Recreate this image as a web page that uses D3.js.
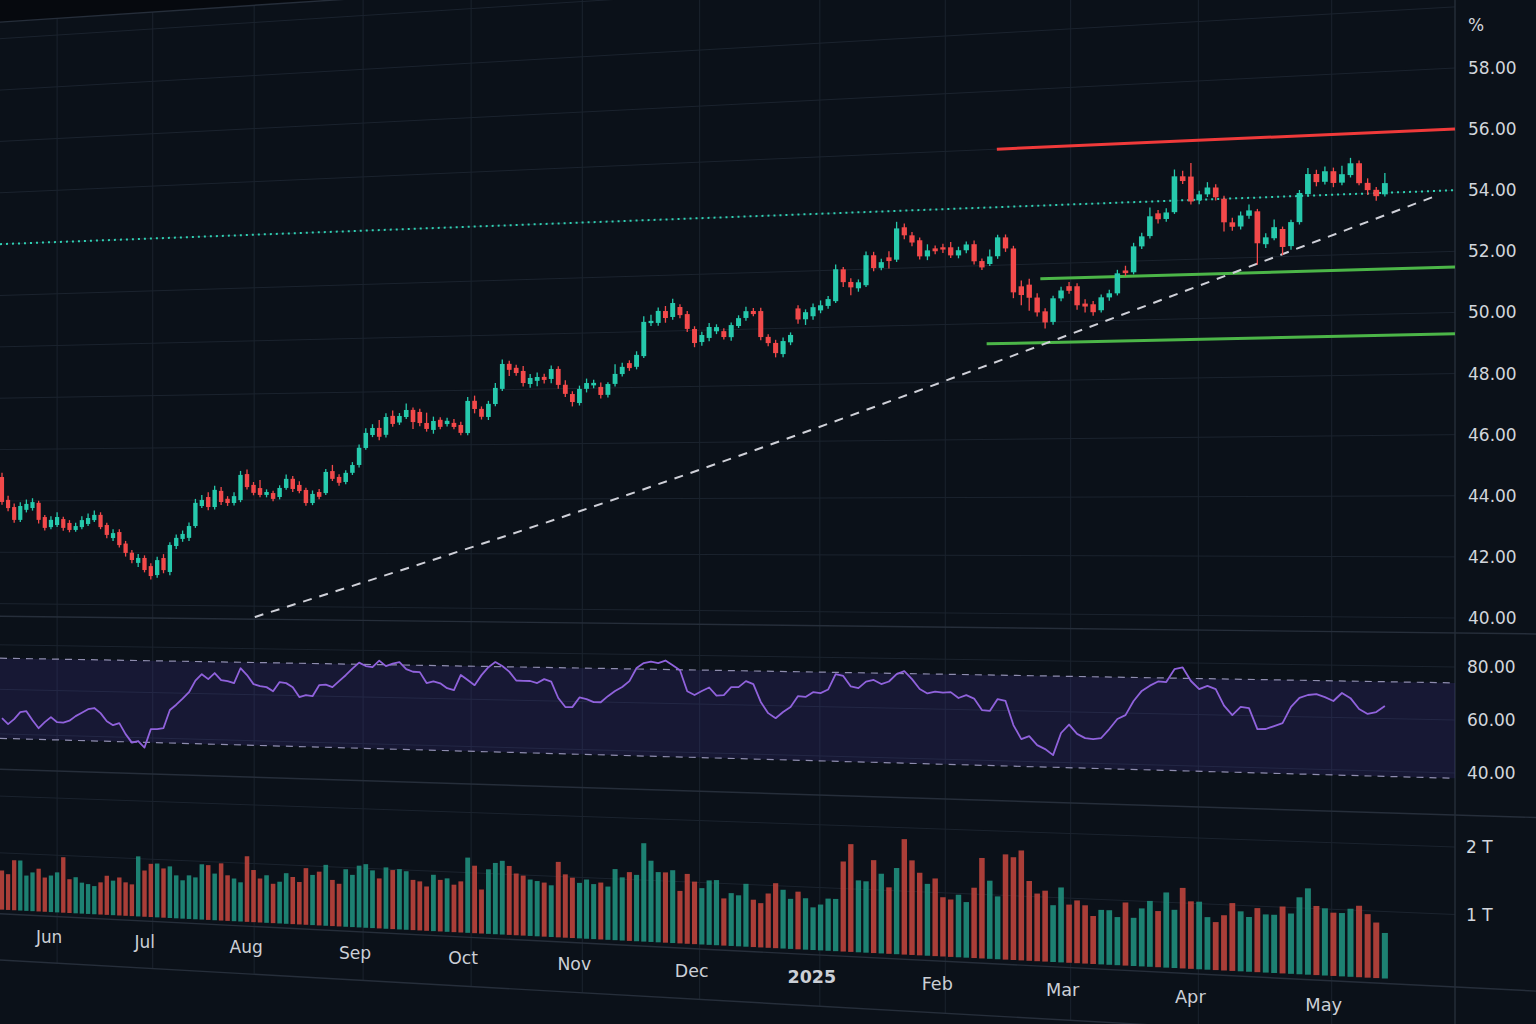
<!DOCTYPE html>
<html><head><meta charset="utf-8">
<script src="https://cdn.jsdelivr.net/npm/d3@7"></script>
<style>html,body{margin:0;padding:0;background:#0b1019;overflow:hidden}</style>
</head><body>
<svg id="c" width="1536" height="1024"></svg>
<script>
// ---------------- DATA ----------------
const open = [44.93,44.04,43.76,43.26,43.65,43.72,43.92,43.37,42.98,43.06,
43.29,43.14,42.87,42.98,43.10,43.25,43.45,43.06,42.56,42.79,
42.35,42.00,41.61,41.80,41.49,41.15,41.80,41.27,42.26,42.53,
42.57,43.02,43.78,44.12,43.74,44.35,44.05,43.89,44.00,44.98,
44.57,44.45,44.19,44.26,44.11,44.45,44.79,44.56,44.37,43.88,
44.29,44.25,45.07,44.85,44.66,45.00,45.29,45.92,46.40,46.66,
46.40,47.10,46.85,47.05,47.31,47.23,46.82,46.56,46.93,46.77,
46.81,46.73,46.43,47.61,47.31,47.01,47.48,48.03,48.94,48.79,
48.67,48.19,48.30,48.44,48.36,48.72,48.14,47.80,47.47,47.98,
48.10,48.04,47.75,48.14,48.49,48.88,48.74,49.12,50.30,50.30,
50.72,50.50,50.85,50.59,50.05,49.58,49.72,49.95,49.95,49.73,
50.12,50.40,50.64,50.63,49.71,49.49,49.09,49.50,50.69,50.30,
50.40,50.60,50.75,50.91,52.02,51.57,51.34,51.44,52.48,52.03,
52.39,52.30,53.42,53.13,52.95,52.38,52.65,52.68,52.67,52.38,
52.55,52.75,52.16,52.05,52.31,52.95,52.56,51.25,51.30,50.85,
50.37,50.00,50.80,51.21,51.20,50.60,50.57,50.36,50.79,50.92,
51.69,51.62,52.49,52.83,53.59,53.39,53.61,54.81,54.79,53.98,
54.17,54.39,54.00,53.20,53.05,53.40,53.54,52.43,52.62,52.92,
52.34,53.13,54.05,54.71,54.44,54.78,54.39,54.63,55.01,54.35,
54.11,53.95];
const close = [43.96,43.72,43.26,43.80,43.88,43.95,43.26,42.95,43.26,43.37,
42.95,42.87,43.02,43.25,43.33,43.45,42.98,42.68,42.75,42.29,
41.99,41.72,41.80,41.34,41.11,41.72,41.34,42.30,42.57,42.72,
43.02,43.90,44.01,43.74,44.39,43.93,43.89,44.15,44.95,44.49,
44.27,44.19,44.30,44.04,44.45,44.79,44.41,44.33,43.88,44.22,
44.11,45.04,44.78,44.63,45.00,45.29,45.93,46.48,46.66,46.33,
47.06,46.80,47.09,47.31,46.86,46.82,46.60,46.89,46.67,46.89,
46.66,46.44,47.61,47.31,47.02,47.49,48.07,48.94,48.72,48.60,
48.23,48.41,48.44,48.33,48.72,48.14,47.81,47.51,47.98,48.19,
48.19,47.75,48.14,48.50,48.75,48.70,49.17,50.35,50.38,50.73,
50.47,51.00,50.56,50.06,49.55,49.83,50.11,50.10,49.74,50.16,
50.40,50.64,50.53,49.71,49.49,49.13,49.55,49.76,50.30,50.55,
50.72,50.78,50.99,52.03,51.57,51.38,51.55,52.49,52.03,52.23,
52.26,53.39,53.14,52.88,52.39,52.59,52.55,52.60,52.39,52.56,
52.75,52.16,51.94,52.31,52.96,52.57,51.05,50.95,50.85,50.34,
49.99,50.81,51.07,51.05,50.55,50.50,50.30,50.80,50.93,51.60,
51.60,52.50,52.83,53.50,53.39,53.61,54.82,54.65,53.95,54.18,
54.40,54.06,53.21,53.05,53.42,53.58,52.47,52.66,52.99,52.32,
53.14,54.10,54.72,54.44,54.79,54.39,54.67,55.02,54.35,54.11,
53.90,54.32];
const high = [45.10,44.20,43.90,43.95,44.05,44.10,44.00,43.45,43.40,43.55,
43.38,43.25,43.15,43.40,43.50,43.62,43.55,43.15,42.90,42.90,
42.45,42.10,41.95,41.90,41.60,41.85,41.95,42.40,42.70,42.85,
43.15,44.05,44.20,44.30,44.55,44.50,44.15,44.30,45.10,45.15,
44.68,44.75,44.40,44.35,44.55,44.95,44.90,44.70,44.45,44.35,
44.40,45.15,45.30,44.95,45.10,45.40,46.05,46.65,46.80,46.95,
47.20,47.30,47.20,47.55,47.40,47.35,47.20,47.05,47.02,47.00,
46.95,46.85,47.75,47.80,47.40,47.60,48.25,49.10,49.05,48.90,
48.85,48.55,48.60,48.55,48.85,48.82,48.30,47.90,48.10,48.35,
48.30,48.20,48.20,48.85,48.90,48.98,49.30,50.55,50.60,50.85,
50.90,51.15,50.95,50.70,50.15,49.95,50.25,50.20,50.05,50.25,
50.50,50.80,50.75,50.75,49.80,49.60,49.68,49.85,50.80,50.65,
50.85,50.95,51.10,52.20,52.10,51.70,51.65,52.62,52.60,52.35,
52.60,53.62,53.55,53.25,53.05,52.80,52.75,52.80,52.85,52.68,
52.85,52.88,52.25,52.55,53.05,53.05,52.65,51.45,51.50,51.00,
50.48,50.90,51.20,51.35,51.30,50.75,50.68,50.90,51.05,51.72,
51.85,52.62,52.95,53.80,53.70,53.75,55.05,55.00,55.25,54.30,
54.58,54.50,54.10,53.35,53.55,53.78,53.62,52.80,53.25,53.00,
53.22,54.20,54.92,54.85,54.95,54.90,54.95,55.20,55.10,54.50,
54.20,54.65];
const low = [43.85,43.60,43.15,43.18,43.55,43.62,43.12,42.85,42.90,42.98,
42.84,42.78,42.80,42.90,43.02,43.18,42.90,42.55,42.45,42.20,
41.85,41.60,41.45,41.25,40.98,41.05,41.22,41.15,42.15,42.42,
42.45,42.95,43.70,43.62,43.65,43.82,43.78,43.80,43.92,44.40,
44.18,44.10,44.10,43.95,44.02,44.38,44.30,44.25,43.78,43.80,
44.02,44.18,44.70,44.52,44.58,44.92,45.20,45.85,46.32,46.20,
46.30,46.70,46.76,46.98,46.60,46.70,46.50,46.42,46.58,46.68,
46.58,46.35,46.35,47.15,46.92,46.90,47.40,47.95,48.50,48.50,
48.10,48.05,48.10,48.20,48.20,48.00,47.70,47.35,47.38,47.85,
48.00,47.62,47.65,48.05,48.40,48.60,48.65,49.05,50.20,50.20,
50.30,50.40,50.45,49.95,49.40,49.45,49.60,49.85,49.65,49.60,
50.05,50.30,50.45,49.60,49.38,48.98,48.98,49.40,50.15,50.10,
50.28,50.50,50.65,50.85,51.40,51.10,51.22,51.38,51.92,51.95,
52.00,52.22,53.00,52.75,52.28,52.25,52.45,52.48,52.30,52.28,
52.45,52.05,51.85,51.98,52.22,52.45,50.85,50.60,50.40,50.20,
49.78,49.90,50.70,50.95,50.40,50.30,50.18,50.28,50.68,50.85,
51.50,51.55,52.40,52.75,53.25,53.30,53.55,54.55,53.85,53.85,
54.08,53.95,52.90,52.92,52.95,53.30,51.75,52.30,52.55,52.05,
52.22,53.05,53.98,54.30,54.35,54.25,54.30,54.55,54.28,53.95,
53.75,53.88];
const rsi = [47.1,44.5,46.8,50.0,50.5,46.5,43.0,45.8,48.1,45.9,
45.8,46.7,48.8,50.4,52.0,52.6,50.4,46.9,45.2,46.2,
41.4,37.7,38.5,35.7,43.9,44.0,44.5,52.5,54.9,57.6,
60.5,65.6,68.5,66.4,69.1,66.1,65.7,64.9,71.4,68.5,
64.6,63.8,63.4,61.7,65.7,65.3,63.6,59.4,60.3,59.9,
64.7,65.0,64.0,66.6,69.2,72.1,74.7,73.3,72.9,75.7,
73.4,74.5,75.2,72.3,71.2,71.1,66.5,67.3,66.5,64.5,
63.7,70.2,68.1,66.0,70.3,73.7,75.9,74.3,72.0,68.3,
68.2,68.2,67.4,69.1,68.1,61.3,57.6,57.6,61.7,61.1,
59.9,59.9,62.5,64.7,66.4,68.9,74.4,76.5,77.2,76.6,
77.7,75.8,73.8,65.2,63.7,65.4,66.9,63.6,63.9,67.2,
67.3,69.8,68.6,61.4,56.9,54.9,57.5,59.6,64.1,63.8,
65.8,65.5,67.0,73.3,72.6,68.4,67.8,70.5,71.2,69.6,
70.7,73.7,75.0,71.8,67.9,66.2,67.0,66.6,66.9,64.6,
65.8,64.5,60.0,59.7,64.5,63.8,54.3,48.8,50.1,46.6,
45.1,42.8,51.6,55.0,51.4,49.8,49.5,50.0,53.6,57.6,
59.2,64.8,68.8,70.9,72.6,72.4,77.5,78.2,73.0,69.9,
71.2,70.0,63.7,60.1,63.3,62.9,54.9,55.0,56.2,57.4,
63.7,67.2,68.4,68.8,67.7,66.3,69.4,67.5,63.4,61.6,
62.4,64.8];
// volume in trillions
const volume = [0.69,0.63,0.88,0.88,0.62,0.68,0.75,0.60,0.64,0.70,
0.97,0.59,0.63,0.54,0.52,0.49,0.56,0.68,0.60,0.66,
0.58,0.55,1.04,0.80,0.92,0.93,0.85,0.89,0.74,0.66,
0.75,0.72,0.95,0.94,0.80,0.98,0.78,0.73,0.67,1.12,
0.89,0.75,0.81,0.67,0.71,0.86,0.80,0.72,0.96,0.85,
0.91,1.03,0.78,0.72,0.97,0.88,1.04,1.07,0.97,0.84,
1.03,0.99,1.01,0.98,0.84,0.82,0.74,0.94,0.86,0.89,
0.79,0.85,1.25,1.12,0.73,1.07,1.18,1.22,1.14,1.02,
0.99,0.93,0.91,0.89,0.85,1.24,1.04,0.99,0.91,0.97,
0.90,0.93,0.87,1.16,1.03,1.12,1.08,1.60,1.32,1.14,
1.14,1.18,0.85,1.13,1.01,0.91,1.04,1.05,
0.76,0.85,0.82,1.01,0.76,0.71,0.87,1.04,0.94,0.80,
0.92,0.82,0.68,0.73,0.83,0.83,1.43,1.71,1.14,1.13,
1.47,1.26,1.05,1.36,1.82,1.49,1.30,1.13,1.22,0.93,
0.90,0.98,0.87,1.10,1.57,1.22,0.98,1.64,1.60,1.71,
1.24,1.05,1.10,0.88,1.16,0.90,0.97,0.90,0.74,0.84,
0.84,0.74,0.97,0.74,0.89,1.01,0.86,1.15,0.89,1.23,
1.03,1.03,0.80,0.73,0.84,1.03,0.91,0.83,0.97,0.88,
0.88,1.01,0.91,1.16,1.30,1.04,1.01,0.95,0.95,1.02,
1.07,0.95,0.83,0.68];
const monthLabels = ["Jun","Jul","Aug","Sep","Oct","Nov","Dec","2025","Feb","Mar","Apr","May"];
const monthTickIdx = [9,24.3,40.1,56.6,72.5,88.4,104.7,120.9,137.3,153.2,168.9,184.8];
const priceTicks = [40,42,44,46,48,50,52,54,56,58];
const rsiTicks = [40,60,80];
const volTicks = [1,2];
const rsiBands = [74,38];
const levelDotted = 54.0;
const resistance = {from:143.9, price:56.0};
const supports = [{from:149.4, price:51.49},{from:142.6, price:49.30}];
const trendIdx = [40.2,111.5,196.5];
const trendPrice = [39.59,45.64,53.80];

// ---------------- GEOMETRY (perspective) ----------------
const W = 1536, H = 1024, EDGE = 1455, HOR = 528;
const N = close.length;
const xIdx = d3.scaleLinear().domain([0, N-1]).range([0, 1]);
const warpX = t => 2 + 1160.5 * t / (1 - 0.1608 * t);
const X = i => warpX(xIdx(i));
const g = x => 0.8404 + (1 - 0.8404) * x / EDGE;
const P = (x, v) => HOR + (v - HOR) * g(x);
const yP = d3.scaleLinear().domain([40,58]).range([618,68]);
const yR = d3.scaleLinear().domain([40,80]).range([773,667]);
const yV = d3.scaleLinear().domain([0,2]).range([982,847]);
const FLAT = {top:-74, sep1:633, sep2:815, sep3:987, bottom:1042, label:1011};

const svg = d3.select('#c');
svg.append('rect').attr('width',W).attr('height',H).attr('fill','#0b1119');

function hpath(v, x0, x1){ return `M${x0},${P(x0,v)}L${x1},${P(x1,v)}`; }

svg.append('path')
  .attr('d',`M0,-10L0,${P(0,FLAT.top)}L${EDGE},${P(EDGE,FLAT.top)}L${W},${P(W,FLAT.top)}L${W},-10Z`)
  .attr('fill','#06090e');

const grid = svg.append('g').attr('stroke','#1b232e').attr('stroke-width',1).attr('fill','none');
d3.range(40, 64, 2).forEach(p => grid.append('path').attr('d', hpath(yP(p), 0, EDGE)));
rsiTicks.forEach(r => grid.append('path').attr('d', hpath(yR(r), 0, EDGE)));
volTicks.forEach(v => grid.append('path').attr('d', hpath(yV(v), 0, EDGE)));
monthTickIdx.forEach(t => {
  const x = X(t);
  grid.append('path').attr('d', `M${x},${P(x,FLAT.top)}L${x},${P(x,FLAT.bottom)}`);
});
const sep = svg.append('g').attr('stroke','#262e3a').attr('stroke-width',1.4).attr('fill','none');
[FLAT.top, FLAT.sep1, FLAT.sep2, FLAT.sep3, FLAT.bottom].forEach(v => sep.append('path').attr('d', hpath(v, 0, W)));
sep.append('line').attr('x1',EDGE).attr('x2',EDGE).attr('y1',0).attr('y2',H);

// RSI band + line
const bt = yR(rsiBands[0]), bb = yR(rsiBands[1]);
svg.append('path')
  .attr('d',`M0,${P(0,bt)}L${EDGE},${P(EDGE,bt)}L${EDGE},${P(EDGE,bb)}L0,${P(0,bb)}Z`)
  .attr('fill','rgba(78,62,175,0.18)');
rsiBands.forEach(b => svg.append('path').attr('d', hpath(yR(b),0,EDGE))
  .attr('stroke','#8e8cae').attr('stroke-width',1.2).attr('stroke-dasharray','7 6').attr('fill','none'));
svg.append('path')
  .datum(rsi)
  .attr('d', d3.line().x((d,i)=>X(i)).y((d,i)=>P(X(i), yR(d))))
  .attr('fill','none').attr('stroke','#9062dc').attr('stroke-width',1.8).attr('stroke-linejoin','round');

// Volume bars
const up = i => close[i] >= open[i];
const spacing = i => X(i+0.5) - X(i-0.5);
svg.append('g').selectAll('rect').data(volume).join('rect')
  .attr('x',(d,i)=>X(i)-spacing(i)*0.35)
  .attr('width',(d,i)=>spacing(i)*0.7)
  .attr('y',(d,i)=>P(X(i), yV(d)))
  .attr('height',(d,i)=>P(X(i), yV(0)) - P(X(i), yV(d)))
  .attr('fill',(d,i)=>up(i)?'#1f8b7a':'#b9423b')
  .attr('opacity',0.92);

// Level lines
svg.append('path').attr('d', hpath(yP(levelDotted), 0, EDGE))
  .attr('stroke','#2fd1b3').attr('stroke-width',2).attr('stroke-dasharray','2 4').attr('fill','none');
svg.append('path').attr('d', hpath(yP(resistance.price), X(resistance.from), EDGE))
  .attr('stroke','#f03a3a').attr('stroke-width',3).attr('fill','none');
supports.forEach(s => svg.append('path').attr('d', hpath(yP(s.price), X(s.from), EDGE))
  .attr('stroke','#4cb648').attr('stroke-width',3).attr('fill','none'));
svg.append('path')
  .datum(trendIdx.map((t,k)=>[X(t), P(X(t), yP(trendPrice[k]))]))
  .attr('d', d3.line().curve(d3.curveNatural))
  .attr('stroke','#cfd0d8').attr('stroke-width',2).attr('stroke-dasharray','9 8').attr('fill','none');

// Candles
const cg = svg.append('g');
close.forEach((c,i) => {
  const x = X(i), bw = spacing(i)*0.68;
  const col = up(i) ? '#26c9ac' : '#f2494a';
  cg.append('line').attr('x1',x).attr('x2',x)
    .attr('y1',P(x,yP(high[i]))).attr('y2',P(x,yP(low[i])))
    .attr('stroke',col).attr('stroke-width',1.3);
  const yt = P(x,yP(Math.max(open[i],c))), yb = P(x,yP(Math.min(open[i],c)));
  cg.append('rect').attr('x',x-bw/2).attr('width',bw)
    .attr('y',yt).attr('height',Math.max(1.5,yb-yt)).attr('fill',col);
});

// Right axis labels
const ax = svg.append('g').attr('font-family','DejaVu Sans, sans-serif').attr('font-size',17)
  .attr('fill','#d2d6dc').attr('dominant-baseline','central');
ax.append('text').attr('x',1468).attr('y',25).text('%');
priceTicks.forEach(p => ax.append('text').attr('x',1468).attr('y',yP(p)).text(p.toFixed(2)));
rsiTicks.forEach(r => ax.append('text').attr('x',1467).attr('y',yR(r)).text(r.toFixed(2)));
volTicks.forEach(v => ax.append('text').attr('x',1466).attr('y',yV(v)).text(v + ' T'));

// Month labels
const ml = svg.append('g').attr('font-family','DejaVu Sans, sans-serif').attr('fill','#cbcfd6')
  .attr('text-anchor','middle').attr('dominant-baseline','central');
monthLabels.forEach((m,k) => {
  const x = X(monthTickIdx[k]) - 8;
  ml.append('text').attr('x',x).attr('y',P(x,FLAT.label))
    .attr('font-size', 18*(0.6+0.4*g(x)))
    .attr('font-weight', m === '2025' ? 'bold' : 'normal')
    .text(m);
});
</script>
</body></html>
